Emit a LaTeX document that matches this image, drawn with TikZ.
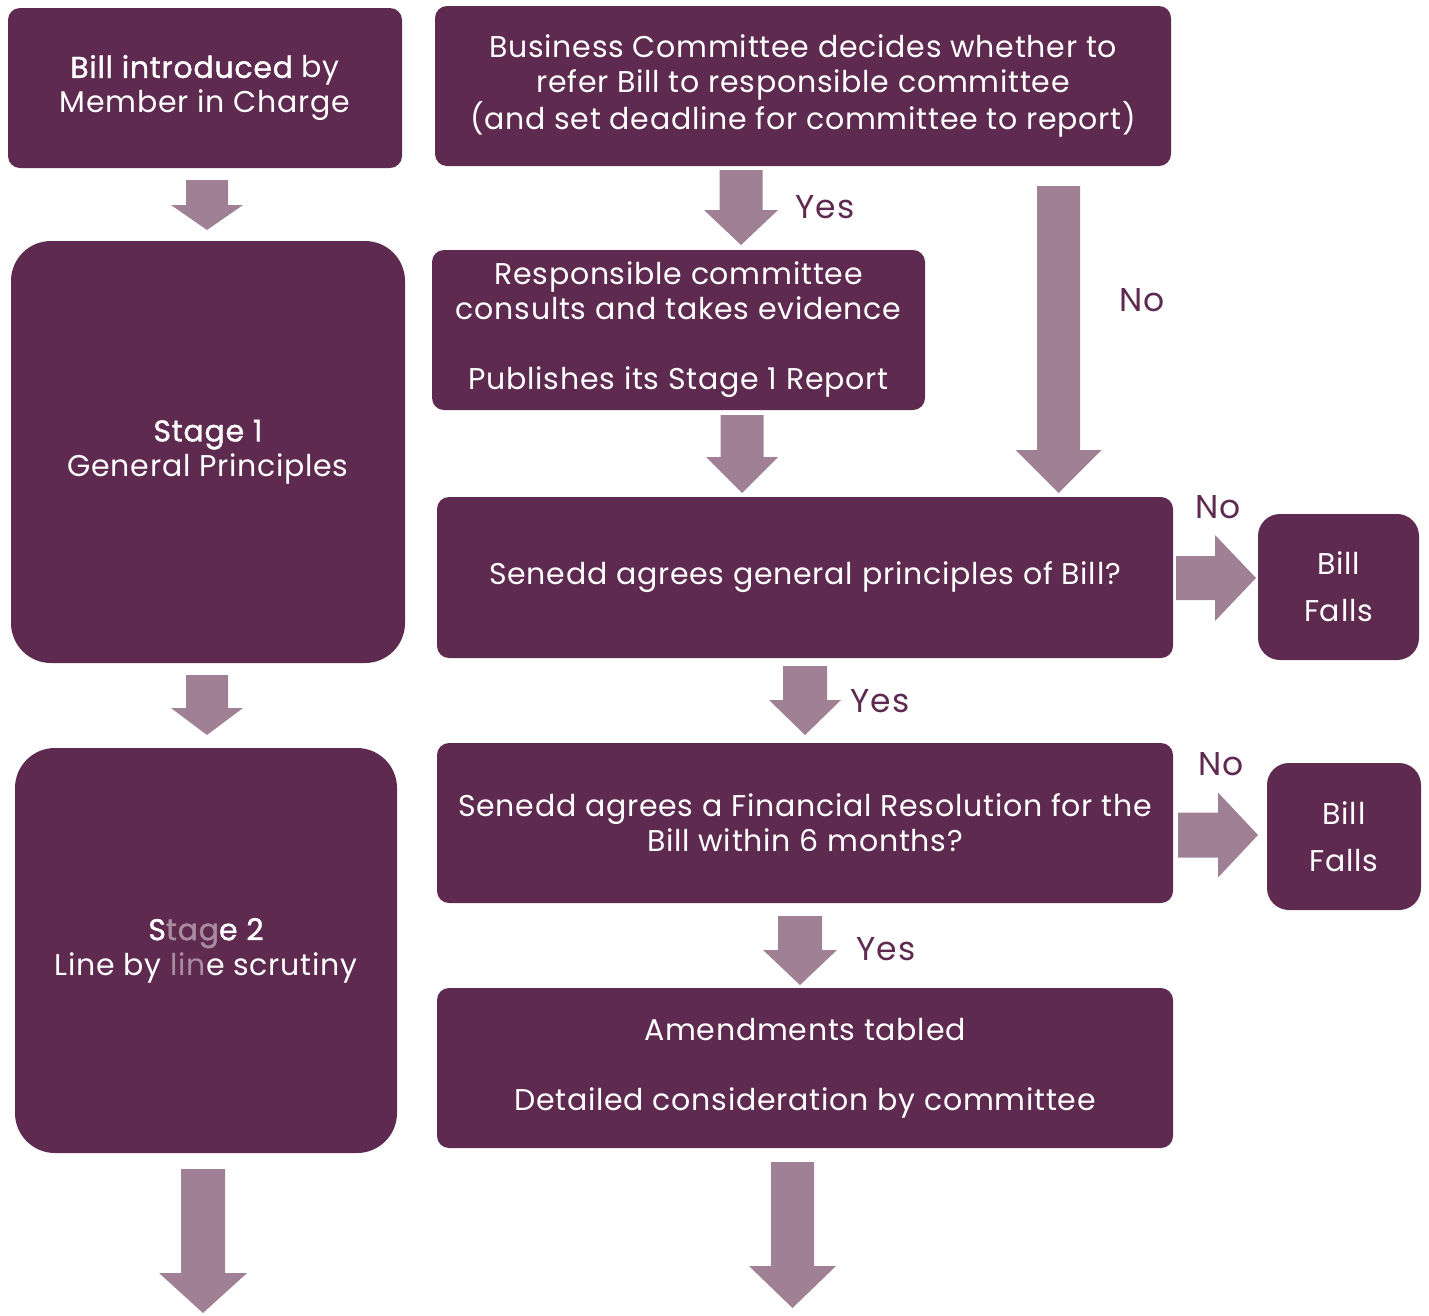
\documentclass[tikz,border=0pt]{standalone}
\usepackage{fontspec}
\setmainfont{Poppins}[LetterSpace=2.5]
\definecolor{boxfill}{HTML}{5F2A50}
\definecolor{arrfill}{HTML}{A08095}
\definecolor{fade}{HTML}{A98C9F}
\newcommand\semib[1]{{\addfontfeature{FakeBold=1.2}#1}}
\newcommand\blockdown[6]{\fill[arr] (#1-#5,#2) -- (#1+#5,#2) -- (#1+#5,#3) -- (#1+#6,#3) -- (#1,#4) -- (#1-#6,#3) -- (#1-#5,#3) -- cycle;}
\newcommand\blockright[6]{\fill[arr] (#2,#1-#5) -- (#2,#1+#5) -- (#3,#1+#5) -- (#3,#1+#6) -- (#4,#1) -- (#3,#1-#6) -- (#3,#1-#5) -- cycle;}
\begin{document}
\begin{tikzpicture}[x=1pt,y=-1pt,
  box/.style={fill=boxfill, text=white, rounded corners=12pt, align=center, inner sep=0pt,
    font=\fontsize{30}{35}\selectfont},
  bigbox/.style={box, rounded corners=40pt},
  fallbox/.style={box, rounded corners=22pt, font=\fontsize{30}{47}\selectfont},
  arr/.style={fill=arrfill},
  lab/.style={text=boxfill, font=\fontsize{33}{38}\selectfont, inner sep=0pt}]
\useasboundingbox (0,0) rectangle (1429,1315);
% boxes
\node[box, minimum width=394pt, minimum height=160pt] (intro) at (205,88)
  {\semib{Bill introduced} by\\Member in Charge};
\node[box, minimum width=736pt, minimum height=160pt] (bus) at (803,86)
  {Business Committee decides whether to\\refer Bill to responsible committee\\(and set deadline for committee to report)};
\node[box, minimum width=493pt, minimum height=160pt] (resp) at (678.5,330)
  {Responsible committee\\consults and takes evidence\\[35pt]Publishes its Stage 1 Report};
\node[bigbox, minimum width=394pt, minimum height=422pt] (s1) at (208,452)
  {\semib{Stage 1}\\General Principles};
\node[box, minimum width=736pt, minimum height=161pt] (gp) at (805,577.5)
  {Senedd agrees general principles of Bill?};
\node[fallbox, minimum width=161pt, minimum height=146pt] (fall1) at (1338.5,587)
  {Bill\\Falls};
\node[bigbox, minimum width=382pt, minimum height=405pt] (s2) at (206,950.5)
  {\semib{S\textcolor{fade}{tag}e 2}\\Line by \textcolor{fade}{lin}e scrutiny};
\node[box, minimum width=736pt, minimum height=160pt] (fin) at (805,823)
  {Senedd agrees a Financial Resolution for the\\Bill within 6 months?};
\node[fallbox, minimum width=154pt, minimum height=147pt] (fall2) at (1344,836.5)
  {Bill\\Falls};
\node[box, minimum width=736pt, minimum height=160pt] (amend) at (805,1068)
  {Amendments tabled\\[35pt]Detailed consideration by committee};
% arrows
\blockdown{207}{180}{205}{230}{21}{36}
\blockdown{207}{675}{708}{735}{21}{36}
\blockdown{203}{1169}{1273}{1313}{22}{44}
\blockdown{741}{170}{210}{245}{21.5}{37}
\blockdown{742}{415}{457}{493}{21.5}{36}
\blockdown{1058.5}{186}{450}{493}{21.5}{43}
\blockdown{805}{666}{700}{735}{22}{36}
\blockdown{800}{916}{950}{985}{22}{37}
\blockdown{792.5}{1162}{1266}{1308}{21.5}{43.5}
\blockright{578}{1176}{1215}{1256}{22}{43}
\blockright{835}{1178}{1218}{1258}{22.5}{42.5}
% labels
\node[lab] (yes1) at (825,207) {Yes};
\node[lab] (no1) at (1142,300) {No};
\node[lab] (no2) at (1218,507) {No};
\node[lab] (yes2) at (880,701) {Yes};
\node[lab] (no3) at (1221,764) {No};
\node[lab] (yes3) at (886,949) {Yes};
\end{tikzpicture}
\end{document}
